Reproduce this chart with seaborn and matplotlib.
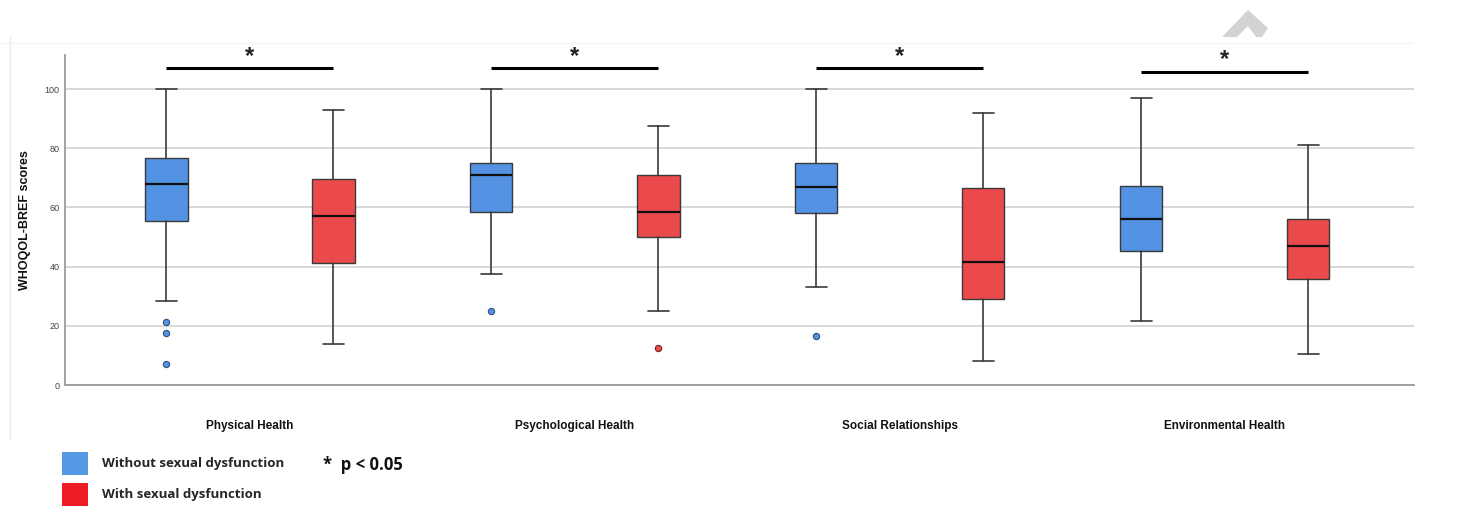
import matplotlib
matplotlib.use("Agg")
import matplotlib.pyplot as plt
from matplotlib.patches import Patch, Polygon
from matplotlib.lines import Line2D
import seaborn as sns

# ---------------------------------------------------------------
# data (WHOQOL-BREF domain scores)
# ---------------------------------------------------------------
domains = ["Physical Health", "Psychological Health",
           "Social Relationships", "Environmental Health"]
groups = ["Without sexual dysfunction", "With sexual dysfunction"]

# without sexual dysfunction
wo_low = [28.5, 37.5, 33.2, 21.7]
wo_q1 = [55.3, 58.3, 58.2, 45.3]
wo_med = [67.9, 70.9, 66.8, 56.2]
wo_q3 = [76.8, 74.9, 74.9, 67.1]
wo_high = [100.0, 100.0, 100.0, 96.8]
wo_fliers = [[21.3, 17.7, 7.0], [25.0], [16.4], []]

# with sexual dysfunction
w_low = [14.0, 25.0, 8.1, 10.5]
w_q1 = [41.1, 50.1, 29.2, 35.8]
w_med = [57.2, 58.3, 41.6, 47.0]
w_q3 = [69.7, 70.8, 66.7, 56.1]
w_high = [93.0, 87.6, 91.8, 81.2]
w_fliers = [[], [12.4], [], []]

sig_y = [107.1, 107.1, 107.1, 105.8]
yticks = [0, 20, 40, 60, 80, 100]

box_colors = ["#5493E3", "#EB4A4C"]
legend_colors = ["#5598E4", "#ED1C24"]

# ---------------------------------------------------------------
# style
# ---------------------------------------------------------------
sns.set_theme(style="white")
plt.rcParams["font.family"] = ["Liberation Sans", "DejaVu Sans"]

fig = plt.figure(figsize=(14.64, 5.09), dpi=100)
ax = fig.add_axes([0.0444, 0.2436, 0.9214, 0.6484])

offset = 0.257
box_w = 0.13


def make_stats(low, q1, med, q3, high, fliers):
    return [dict(whislo=a, q1=b, med=c, q3=d, whishi=e, fliers=f)
            for a, b, c, d, e, f in zip(low, q1, med, q3, high, fliers)]


sets = [make_stats(wo_low, wo_q1, wo_med, wo_q3, wo_high, wo_fliers),
        make_stats(w_low, w_q1, w_med, w_q3, w_high, w_fliers)]

for k, stats in enumerate(sets):
    pos = [i + (2 * k - 1) * offset for i in range(len(domains))]
    ax.bxp(stats, positions=pos, widths=box_w, patch_artist=True,
           showfliers=True, manage_ticks=False,
           boxprops=dict(facecolor=box_colors[k], edgecolor="#3a3a3a", linewidth=1.0),
           medianprops=dict(color="#111111", linewidth=1.6),
           whiskerprops=dict(color="#3a3a3a", linewidth=1.2),
           capprops=dict(color="#3a3a3a", linewidth=1.2),
           flierprops=dict(marker="o", markersize=4.5,
                           markerfacecolor=box_colors[k],
                           markeredgecolor="#2f4f7f" if k == 0 else "#7a2020",
                           markeredgewidth=0.8))

# significance bars
for i, y in enumerate(sig_y):
    ax.plot([i - offset, i + offset], [y, y], color="black", lw=2.2,
            solid_capstyle="butt", clip_on=False)
    ax.text(i, y + 4.0, "*", ha="center", va="center", fontsize=17,
            fontweight="bold", color="#222222", clip_on=False)

ax.set_xlim(-0.569, 3.582)
ax.set_ylim(0, 111.5)
ax.set_yticks(yticks)
ax.set_yticklabels([str(t) for t in yticks], fontsize=6.5, color="#444444")
ax.set_xticks(range(len(domains)))
ax.set_xticklabels(domains, fontsize=8.5, fontweight="bold", color="#111111")
ax.tick_params(axis="x", length=0, pad=25)
ax.tick_params(axis="y", length=0, pad=4)
ax.yaxis.grid(True, color="#d6d6d6", lw=1.3)
ax.set_axisbelow(True)
ax.set_ylabel("WHOQOL-BREF scores", fontsize=9, fontweight="bold",
              color="#111111", labelpad=10)

for side in ["top", "right"]:
    ax.spines[side].set_visible(False)
for side in ["left", "bottom"]:
    ax.spines[side].set_color("#9a9a9a")
    ax.spines[side].set_linewidth(1.3)

# legend
handles = [Patch(facecolor=c, edgecolor="none") for c in legend_colors]
fig.legend(handles, groups, loc="upper left",
           bbox_to_anchor=(62 / 1464, 1 - 452 / 509),
           frameon=False, borderpad=0, borderaxespad=0,
           handlelength=2.0, handleheight=2.25, handletextpad=1.05,
           labelspacing=0.65,
           prop=dict(family=["Open Sans", "DejaVu Sans"], weight="bold", size=9.5))
fig.text(323 / 1464, 1 - 465 / 509, "*  p < 0.05", ha="left", va="center",
         fontsize=12, fontweight="bold", family=["Open Sans", "DejaVu Sans"],
         color="#111111")

# faint panel edges and the grey mark at the top
fig.add_artist(Line2D([10 / 1464, 10 / 1464], [1 - 37 / 509, 1 - 440 / 509],
                      color="#e6edf4", lw=1.0))
fig.add_artist(Line2D([0, 1413 / 1464], [1 - 43 / 509, 1 - 43 / 509],
                      color="#f3f3f3", lw=1.0))
chev = [(1222, 37), (1248, 10), (1268, 28), (1262, 37), (1256, 37),
        (1248, 26), (1237, 37)]
fig.add_artist(Polygon([(x / 1464, 1 - y / 509) for x, y in chev],
                       closed=True, facecolor="#d3d3d3", edgecolor="none",
                       transform=fig.transFigure))

fig.savefig("out.png", dpi=100)
plt.close(fig)
